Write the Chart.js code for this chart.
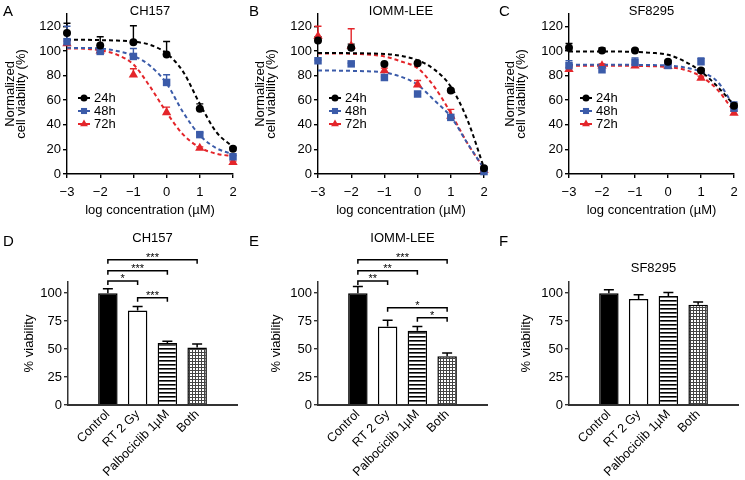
<!DOCTYPE html>
<html>
<head>
<meta charset="utf-8">
<script src="https://cdn.jsdelivr.net/npm/chart.js@4.4.1/dist/chart.umd.min.js"></script>
<style>
  body { margin: 0; background: #fff; }
  #fig { position: relative; width: 745px; height: 480px; overflow: hidden; font-family: 'Liberation Sans', Arial, sans-serif; color: #000; }
  .panel { position: absolute; }
  .letter { position: absolute; font-size: 15px; line-height: 15px; }
  .title { position: absolute; width: 200px; text-align: center; font-size: 13px; line-height: 13px; }
</style>
</head>
<body>
<div id="fig"></div>
<script>
// dose-response panels (A-C)
const doseX = [-3, -2, -1, 0, 1, 2];
const fitX = [-3, -2.5, -2, -1.5, -1, -0.5, 0, 0.5, 1, 1.5, 2];
const doseYTicks = [0, 20, 40, 60, 80, 100, 120];
const timeLabels = ['24h', '48h', '72h'];
const doseTitles = ['CH157', 'IOMM-LEE', 'SF8295'];

const ch157_24h = [114.5, 104.5, 107, 97, 53, 20.5];
const ch157_48h = [107.5, 99.6, 95.5, 74.4, 32, 14];
const ch157_72h = [106, 100, 80.6, 50, 21, 9.5];
const ch157_24hSem = [8, 7, 13.5, 10.7, 4, 1];
const ch157_48hSem = [12.5, 1.5, 6.5, 6.2, 1.5, 1];
const ch157_72hSem = [2, 1, 4.9, 4.3, 1, 1];
const ch157_24hFit = [109, 109, 108.8, 108.4, 107.5, 105, 98, 83, 57, 34, 22];
const ch157_48hFit = [102.5, 102.4, 102, 100, 96, 88, 73.5, 50, 31.5, 21, 16];
const ch157_72hFit = [102, 101.8, 100.5, 97, 89, 71, 50, 32, 21.5, 16.5, 14.5];

const iomm_24h = [108.5, 102.5, 89.3, 90, 67.9, 4.6];
const iomm_48h = [92, 89.5, 78.4, 65, 46, 2];
const iomm_72h = [112, 104, 84, 72.5, 47, 3];
const iomm_24hSem = [3, 3, 1, 1, 1, 1];
const iomm_48hSem = [0.5, 0.5, 0.5, 0.5, 0.5, 0.5];
const iomm_72hSem = [8, 14, 2, 3.5, 5.5, 1];
const iomm_24hFit = [98.3, 98.3, 98.2, 98, 97.5, 96, 92.5, 85, 71, 44, 5];
const iomm_48hFit = [84, 84, 83.8, 83.4, 82.5, 79, 72.5, 60, 46.5, 25, 4.5];
const iomm_72hFit = [98, 98, 97.7, 97, 95.5, 91.5, 86, 71, 49.5, 25, 4.5];

const sf_24h = [102.5, 100.4, 100.4, 91.2, 84.1, 55.5];
const sf_48h = [88, 84.7, 90.6, 88.2, 91.2, 53.5];
const sf_72h = [85, 88, 88, 87.5, 78, 49.5];
const sf_24hSem = [3.5, 2, 1, 1, 1.5, 2];
const sf_48hSem = [4, 2, 3.6, 1, 3, 5];
const sf_72hSem = [1.5, 1.5, 1, 1, 1.5, 1.5];
const sf_24hFit = [99.6, 99.6, 99.6, 99.5, 99.2, 98.5, 96.9, 91.5, 83.3, 71, 56];
const sf_48hFit = [88.8, 88.8, 88.8, 88.8, 88.7, 88.5, 88.2, 86.6, 83, 75, 55];
const sf_72hFit = [88, 88, 88, 88, 87.9, 87.6, 86.9, 84.7, 79.3, 68.4, 50.7];

// bar panels (D-F)
const barCategories = ['Control', 'RT 2 Gy', 'Palbociclib 1\u00b5M', 'Both'];
const barTitles = ['CH157', 'IOMM-LEE', 'SF8295'];
const barYTicks = [0, 25, 50, 75, 100];
const ch157Bars = [100, 84.5, 55.5, 51.5];
const ch157BarSem = [4, 3.5, 1.6, 3];
const iommBars = [100, 70.3, 66.5, 43.5];
const iommBarSem = [6, 5.5, 3.6, 3];
const sfBars = [100, 94.7, 97.5, 89.6];
const sfBarSem = [3, 4, 3, 2.5];
// [from, to, height, label]
const ch157Sig = [[0, 3, 130, '***'], [0, 2, 120, '***'], [0, 1, 111, '*'], [1, 2, 96, '***']];
const iommSig = [[0, 3, 130, '***'], [0, 2, 120, '**'], [0, 1, 111, '**'], [1, 3, 87, '*'], [2, 3, 78, '*']];
const sfSig = [];

const seriesColors = ['#000000', '#3b5ba9', '#e4252a'];
const seriesShapes = ['circle', 'rect', 'triangle'];
const shapeRadius = [4, 5.3, 5.4];
const legendRadius = [3.5, 4.3, 4.5];

Chart.defaults.font.family = "'Liberation Sans', Arial, sans-serif";
Chart.defaults.color = '#000';

const fig = document.getElementById('fig');

function addText(cls, txt, left, top) {
  const d = document.createElement('div');
  d.className = cls;
  d.textContent = txt;
  d.style.left = left + 'px';
  d.style.top = top + 'px';
  fig.appendChild(d);
}

function makeCanvas(lay, top, height) {
  const wrap = document.createElement('div');
  wrap.className = 'panel';
  wrap.style.left = lay.left + 'px';
  wrap.style.top = top + 'px';
  const c = document.createElement('canvas');
  c.width = lay.width;
  c.height = height;
  c.style.width = lay.width + 'px';
  c.style.height = height + 'px';
  wrap.appendChild(c);
  fig.appendChild(wrap);
  return c;
}

function minusTick(v) {
  return v < 0 ? '\u2212' + Math.abs(v) : String(v);
}

function doseErrors(sets) {
  return {
    id: 'doseErrors',
    beforeDatasetsDraw(chart) {
      const { ctx, scales: { x, y } } = chart;
      ctx.save();
      ctx.lineWidth = 1.4;
      sets.forEach((s, i) => {
        ctx.strokeStyle = seriesColors[i];
        doseX.forEach((xv, j) => {
          const px = x.getPixelForValue(xv);
          const y0 = y.getPixelForValue(s.mean[j]);
          const y1 = y.getPixelForValue(s.mean[j] + s.sem[j]);
          ctx.beginPath();
          ctx.moveTo(px, y0);
          ctx.lineTo(px, y1);
          ctx.moveTo(px - 3.5, y1);
          ctx.lineTo(px + 3.5, y1);
          ctx.stroke();
        });
      });
      ctx.restore();
    }
  };
}

const doseLegend = {
  id: 'doseLegend',
  afterDraw(chart) {
    const { ctx, chartArea } = chart;
    ctx.save();
    ctx.font = "13px 'Liberation Sans', Arial, sans-serif";
    ctx.textBaseline = 'middle';
    timeLabels.forEach((t, i) => {
      const yy = chartArea.top + 84 + i * 13;
      const x0 = chartArea.left + 11;
      ctx.strokeStyle = seriesColors[i];
      ctx.fillStyle = seriesColors[i];
      ctx.lineWidth = 2;
      ctx.beginPath();
      ctx.moveTo(x0, yy);
      ctx.lineTo(x0 + 12, yy);
      ctx.stroke();
      Chart.helpers.drawPoint(ctx, { pointStyle: seriesShapes[i], radius: legendRadius[i], rotation: 0, borderWidth: 0 }, x0 + 6, yy);
      ctx.fillStyle = '#000';
      ctx.fillText(t, x0 + 16, yy + 0.5);
    });
    ctx.restore();
  }
};

function doseChart(lay, means, sems, fits) {
  const H = 220, plotTop = 14, plotBottom = 174;
  const canvas = makeCanvas(lay, 0, H);
  const datasets = [];
  means.forEach((m, i) => {
    datasets.push({
      label: timeLabels[i],
      data: doseX.map((x, j) => ({ x, y: m[j] })),
      pointStyle: seriesShapes[i],
      pointRadius: shapeRadius[i],
      backgroundColor: seriesColors[i],
      borderColor: seriesColors[i],
      borderWidth: 0,
      showLine: false,
      clip: false,
      order: i
    });
  });
  fits.forEach((f, i) => {
    datasets.push({
      data: fitX.map((x, j) => ({ x, y: f[j] })),
      showLine: true,
      pointRadius: 0,
      borderColor: seriesColors[i],
      borderWidth: 2,
      borderDash: [4, 3],
      cubicInterpolationMode: 'monotone',
      order: 10 + i
    });
  });
  const errSets = means.map((m, i) => ({ mean: m, sem: sems[i] }));
  new Chart(canvas, {
    type: 'scatter',
    data: { datasets },
    options: {
      responsive: false,
      animation: false,
      events: [],
      layout: { padding: { top: plotTop, right: lay.width - lay.plotRight, bottom: 0, left: 0 } },
      plugins: { legend: { display: false }, tooltip: { enabled: false } },
      scales: {
        x: {
          type: 'linear', min: -3, max: 2,
          afterFit: s => { s.height = H - plotBottom; },
          afterBuildTicks: s => { s.ticks = doseX.map(v => ({ value: v })); },
          ticks: { font: { size: 13 }, padding: 7, callback: v => minusTick(v) },
          grid: { drawOnChartArea: false, drawTicks: true, tickLength: 4, color: '#000', lineWidth: 1.4 },
          border: { display: true, color: '#000', width: 1.4 },
          title: { display: true, text: 'log concentration (\u00b5M)', font: { size: 13 }, padding: { top: 0, bottom: 2 } }
        },
        y: {
          min: 0, max: 130,
          afterFit: s => { s.width = lay.plotLeft; },
          afterBuildTicks: s => { s.ticks = doseYTicks.map(v => ({ value: v })); },
          ticks: { font: { size: 13 }, padding: 2 },
          grid: { drawOnChartArea: false, drawTicks: true, tickLength: 4, color: '#000', lineWidth: 1.4 },
          border: { display: true, color: '#000', width: 1.4 },
          title: { display: true, text: ['Normalized', 'cell viability (%)'], font: { size: 13, lineHeight: 0.85 }, padding: { top: lay.titlePad, bottom: 0 } }
        }
      }
    },
    plugins: [doseErrors(errSets), doseLegend]
  });
}

function stripePattern() {
  const c = document.createElement('canvas');
  c.width = 4; c.height = 4;
  const g = c.getContext('2d');
  g.fillStyle = '#fff'; g.fillRect(0, 0, 4, 4);
  g.fillStyle = '#000'; g.fillRect(0, 0, 4, 1.6);
  return g.createPattern(c, 'repeat');
}

function gridPattern() {
  const c = document.createElement('canvas');
  c.width = 3; c.height = 3;
  const g = c.getContext('2d');
  g.fillStyle = '#fff'; g.fillRect(0, 0, 3, 3);
  g.fillStyle = '#444'; g.fillRect(0, 0, 3, 1); g.fillRect(0, 0, 1, 3);
  return g.createPattern(c, 'repeat');
}

function barErrors(sems) {
  return {
    id: 'barErrors',
    afterDatasetsDraw(chart) {
      const { ctx, scales: { x, y } } = chart;
      const vals = chart.data.datasets[0].data;
      ctx.save();
      ctx.strokeStyle = '#000';
      ctx.lineWidth = 1.5;
      vals.forEach((p, i) => {
        const px = x.getPixelForValue(p.x);
        const y0 = y.getPixelForValue(p.y);
        const y1 = y.getPixelForValue(p.y + sems[i]);
        ctx.beginPath();
        ctx.moveTo(px, y0);
        ctx.lineTo(px, y1);
        ctx.moveTo(px - 5, y1);
        ctx.lineTo(px + 5, y1);
        ctx.stroke();
      });
      ctx.restore();
    }
  };
}

function brackets(sigs) {
  return {
    id: 'brackets',
    afterDraw(chart) {
      const { ctx, scales: { x, y } } = chart;
      ctx.save();
      ctx.strokeStyle = '#000';
      ctx.fillStyle = '#000';
      ctx.lineWidth = 1.5;
      ctx.font = "11px 'Liberation Sans', Arial, sans-serif";
      ctx.textAlign = 'center';
      ctx.textBaseline = 'alphabetic';
      sigs.forEach(([a, b, lvl, txt]) => {
        const x1 = x.getPixelForValue(a);
        const x2 = x.getPixelForValue(b);
        const yy = y.getPixelForValue(lvl);
        ctx.beginPath();
        ctx.moveTo(x1, yy + 4);
        ctx.lineTo(x1, yy);
        ctx.lineTo(x2, yy);
        ctx.lineTo(x2, yy + 4);
        ctx.stroke();
        ctx.fillText(txt, (x1 + x2) / 2, yy + 1);
      });
      ctx.restore();
    }
  };
}

function barChart(lay, vals, sems, sigs) {
  const H = 260, plotTop = 62, plotBottom = 185;
  const canvas = makeCanvas(lay, 220, H);
  const fills = ['#000', '#fff', stripePattern(), gridPattern()];
  new Chart(canvas, {
    type: 'bar',
    data: {
      datasets: [{
        data: barCategories.map((c, i) => ({ x: i, y: vals[i] })),
        backgroundColor: fills,
        borderColor: '#000',
        borderWidth: 1.5,
        borderSkipped: 'start',
        barPercentage: 0.655,
        categoryPercentage: 1
      }]
    },
    options: {
      responsive: false,
      animation: false,
      events: [],
      layout: { padding: { top: plotTop, right: lay.width - lay.plotRight, bottom: 0, left: 0 } },
      plugins: { legend: { display: false }, tooltip: { enabled: false } },
      scales: {
        x: {
          type: 'linear', min: -0.63, max: 3.63,
          afterFit: s => { s.height = H - plotBottom; },
          afterBuildTicks: s => { s.ticks = barCategories.map((c, i) => ({ value: i })); },
          ticks: { font: { size: 12.5 }, minRotation: 45, maxRotation: 45, autoSkip: false, padding: 2, callback: v => barCategories[v] },
          grid: { display: false, drawTicks: false },
          border: { display: true, color: '#333', width: 2 }
        },
        y: {
          min: 0, max: 110,
          afterFit: s => { s.width = lay.plotLeft; },
          afterBuildTicks: s => { s.ticks = barYTicks.map(v => ({ value: v })); },
          ticks: { font: { size: 13 }, padding: 2 },
          grid: { drawOnChartArea: false, drawTicks: true, tickLength: 4, color: '#333', lineWidth: 1.4 },
          border: { display: true, color: '#333', width: 1.5 },
          title: { display: true, text: '% viability', font: { size: 13 }, padding: { top: lay.titlePad, bottom: 0 } }
        }
      }
    },
    plugins: [barErrors(sems), brackets(sigs)]
  });
}

const topLayout = [
  { left: 0, width: 245, plotLeft: 67, plotRight: 233, titlePad: 4.5 },
  { left: 245, width: 250, plotLeft: 73, plotRight: 239, titlePad: 9.5 },
  { left: 495, width: 250, plotLeft: 74, plotRight: 239, titlePad: 10 }
];
const bottomLayout = [
  { left: 0, width: 245, plotLeft: 68, plotRight: 237, titlePad: 22 },
  { left: 245, width: 250, plotLeft: 73, plotRight: 242, titlePad: 24 },
  { left: 495, width: 250, plotLeft: 74, plotRight: 243, titlePad: 24 }
];

doseChart(topLayout[0], [ch157_24h, ch157_48h, ch157_72h], [ch157_24hSem, ch157_48hSem, ch157_72hSem], [ch157_24hFit, ch157_48hFit, ch157_72hFit]);
doseChart(topLayout[1], [iomm_24h, iomm_48h, iomm_72h], [iomm_24hSem, iomm_48hSem, iomm_72hSem], [iomm_24hFit, iomm_48hFit, iomm_72hFit]);
doseChart(topLayout[2], [sf_24h, sf_48h, sf_72h], [sf_24hSem, sf_48hSem, sf_72hSem], [sf_24hFit, sf_48hFit, sf_72hFit]);

barChart(bottomLayout[0], ch157Bars, ch157BarSem, ch157Sig);
barChart(bottomLayout[1], iommBars, iommBarSem, iommSig);
barChart(bottomLayout[2], sfBars, sfBarSem, sfSig);

// panel letters and titles
const letters = ['A', 'B', 'C', 'D', 'E', 'F'];
const letterPos = [[3, 2.5], [249, 2.5], [499, 2.5], [3, 232.5], [249, 232.5], [499, 232.5]];
letters.forEach((l, i) => addText('letter', l, letterPos[i][0], letterPos[i][1]));
const titleY = [3.5, 3.5, 3.5, 230.5, 230.5, 261];
doseTitles.forEach((t, i) => {
  const lay = topLayout[i];
  addText('title', t, lay.left + (lay.plotLeft + lay.plotRight) / 2 - 100, titleY[i]);
});
barTitles.forEach((t, i) => {
  const lay = bottomLayout[i];
  addText('title', t, lay.left + (lay.plotLeft + lay.plotRight) / 2 - 100, titleY[3 + i]);
});
</script>
</body>
</html>
